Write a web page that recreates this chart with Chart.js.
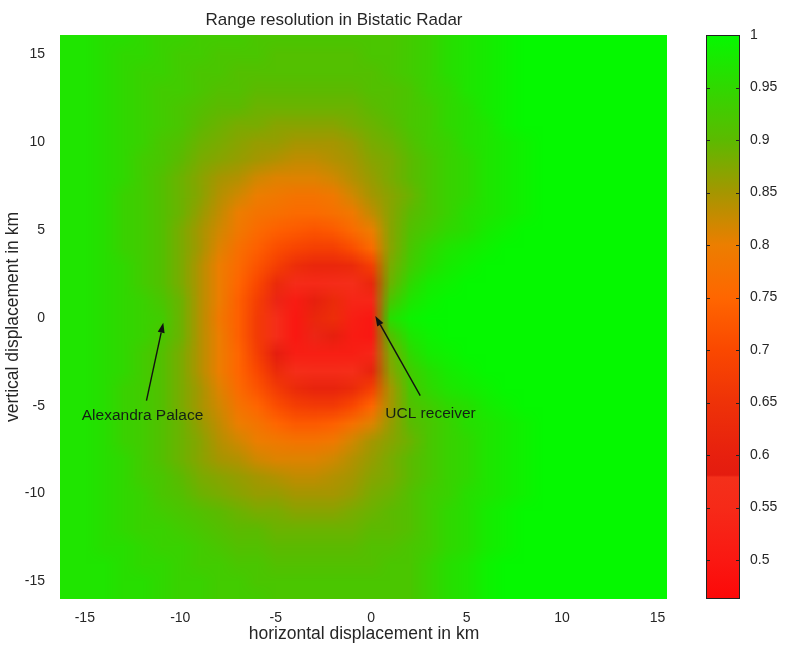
<!DOCTYPE html>
<html>
<head>
<meta charset="utf-8">
<title>Range resolution in Bistatic Radar</title>
<script src="https://cdn.jsdelivr.net/npm/chart.js@4.4.1/dist/chart.umd.min.js"></script>
<style>
  html, body { margin: 0; padding: 0; background: #fff; }
  #wrap { position: relative; width: 793px; height: 646px; }
  #mapa { position: absolute; left: 0; top: 0; }
  #barra { position: absolute; left: 700px; top: 0; }
</style>
</head>
<body>
<div id="wrap">
  <canvas id="mapa" width="793" height="646"></canvas>
  <canvas id="barra" width="93" height="646"></canvas>
</div>
<script>
// --- Datos ---
// centros de la malla (km)
const posX = [-16,-15,-14,-13,-12,-11,-10,-9,-8,-7,-6,-5,-4,-3,-2,-1,0,1,2,3,4,5,6,7,8,9,10,11,12,13,14,15];
const posY = [16,15,14,13,12,11,10,9,8,7,6,5,4,3,2,1,0,-1,-2,-3,-4,-5,-6,-7,-8,-9,-10,-11,-12,-13,-14,-15,-16];

// resolucion relativa en % (fila = posY, columna = posX)
const resolucion = [
  [97,97,96,96,95,94,94,93,93,93,92,92,92,92,92,92,92, 92,93,94,96,97,98,99,100,100,100,100,100,100,100,100],
  [97,97,96,95,95,94,93,93,92,92,92,91,91,91,91,91,92, 92,93,94,96,97,98,99,100,100,100,100,100,100,100,100],
  [97,97,96,95,94,94,93,92,92,91,91,91,91,91,91,91,91, 92,93,94,96,97,98,99,100,100,100,100,100,100,100,100],
  [97,97,96,95,94,93,93,92,91,91,90,90,90,90,90,90,91, 91,92,94,95,97,98,99,100,100,100,100,100,100,100,100],
  [97,97,96,95,94,93,92,91,90,90,89,89,89,89,89,89,90, 91,92,93,95,96,98,99,100,100,100,100,100,100,100,100],
  [97,97,96,95,94,93,92,90,89,88,88,87,87,87,87,88,89, 90,92,93,95,96,97,99,100,100,100,100,100,100,100,100],
  [97,97,96,95,94,92,91,89,88,87,86,86,85,85,85,86,88, 89,91,93,94,96,97,98,99,100,100,100,100,100,100,100],
  [97,97,96,95,93,92,90,88,87,86,85,84,83,83,84,85,87, 88,90,92,94,95,97,98,99,100,100,100,100,100,100,100],
  [97,97,96,95,93,91,89,87,85,84,82,81,81,81,82,84,86, 88,90,92,94,95,97,98,99,100,100,100,100,100,100,100],
  [97,97,96,94,93,91,89,87,84,82,80,79,78,78,79,82,85, 87,89,92,94,95,97,98,99,100,100,100,100,100,100,100],
  [97,97,96,94,93,91,89,86,83,80,78,77,76,76,77,79,83, 87,90,92,94,96,97,98,99,100,100,100,100,100,100,100],
  [97,97,96,94,93,91,88,85,82,79,76,74,73,72,73,76,80, 87,91,93,95,96,98,99,100,100,100,100,100,100,100,100],
  [97,97,96,94,93,91,88,85,81,77,74,71,69,68,68,71,76, 87,92,95,97,98,99,100,100,100,100,100,100,100,100,100],
  [97,97,96,95,93,91,88,84,80,76,72,68,64,62,62,63,68, 88,93,96,98,99,100,100,100,100,100,100,100,100,100,100],
  [97,97,96,95,93,91,88,84,80,75,70,63,56,55,56,57,62, 89,95,98,99,100,100,100,100,100,100,100,100,100,100,100],
  [97,97,96,95,94,92,89,84,80,74,68,58,51,60,63,54,54, 92,97,99,100,100,100,100,100,100,100,100,100,100,100,100],
  [97,97,96,95,94,93,89,84,79,74,67,57,50,62,64,52,50, 96,99,100,100,100,100,100,100,100,100,100,100,100,100,100],
  [97,97,96,95,94,92,89,84,80,74,67,57,50,58,60,51,50, 91,97,99,100,100,100,100,100,100,100,100,100,100,100,100],
  [97,97,96,95,93,91,88,84,80,75,68,59,52,52,52,52,54, 88,95,98,99,100,100,100,100,100,100,100,100,100,100,100],
  [97,97,96,95,93,91,88,84,80,75,70,63,57,56,56,57,61, 87,93,96,98,99,100,100,100,100,100,100,100,100,100,100],
  [97,97,96,94,93,91,88,85,81,76,72,67,63,61,61,63,68, 85,92,95,97,98,99,100,100,100,100,100,100,100,100,100],
  [97,97,96,94,93,91,88,85,82,78,75,71,68,67,67,70,75, 85,91,93,95,96,98,99,100,100,100,100,100,100,100,100],
  [97,97,96,94,93,91,89,86,83,80,78,75,73,73,74,77,81, 86,90,92,94,96,97,98,99,100,100,100,100,100,100,100],
  [97,97,96,94,93,91,89,87,84,82,80,79,78,78,79,82,85, 87,89,92,94,95,97,98,99,100,100,100,100,100,100,100],
  [97,97,96,95,93,91,89,87,85,84,82,81,81,81,82,84,86, 88,90,92,94,95,97,98,99,100,100,100,100,100,100,100],
  [97,97,96,95,93,92,90,88,87,86,85,84,83,83,84,85,87, 88,90,92,94,95,97,98,99,100,100,100,100,100,100,100],
  [97,97,96,95,94,92,91,89,88,87,86,86,85,85,85,86,88, 89,91,93,94,96,97,98,99,100,100,100,100,100,100,100],
  [97,97,96,95,94,93,92,91,90,89,88,88,87,87,87,88,89, 90,91,93,95,96,98,99,100,100,100,100,100,100,100,100],
  [97,97,96,95,94,94,93,92,91,90,90,89,89,89,89,89,90, 90,91,93,95,96,98,99,100,100,100,100,100,100,100,100],
  [97,97,96,96,95,94,94,93,92,91,91,90,90,90,90,90,91, 91,92,93,95,96,98,99,100,100,100,100,100,100,100,100],
  [97,97,97,96,95,95,94,93,93,92,92,91,91,91,91,91,91, 92,92,94,96,97,99,100,100,100,100,100,100,100,100,100],
  [97,97,97,96,96,95,94,94,93,93,92,92,92,92,92,92,92, 92,92,94,96,97,99,100,100,100,100,100,100,100,100,100],
  [97,97,97,96,96,95,94,94,93,93,93,92,92,92,92,92,92, 92,92,94,96,97,99,100,100,100,100,100,100,100,100,100]
];

const ticksX = [-15, -10, -5, 0, 5, 10, 15];
const ticksY = [-15, -10, -5, 0, 5, 10, 15];
const ticksBarra = [0.5, 0.55, 0.6, 0.65, 0.7, 0.75, 0.8, 0.85, 0.9, 0.95, 1];

// mapa de colores (valor -> rgb), con el salto que se ve en 0.58
const coloresValor = [0.463, 0.50, 0.55, 0.579, 0.581, 0.60, 0.65, 0.70, 0.75, 0.80, 0.85, 0.90, 0.95, 1.00];
const coloresRGB = [
  [252, 8, 8], [250, 24, 18], [246, 42, 24], [244, 48, 26], [228, 28, 15], [231, 32, 14],
  [238, 50, 8], [250, 72, 0], [255, 102, 0], [236, 126, 0], [165, 150, 0], [92, 186, 0],
  [48, 216, 0], [5, 248, 0]
];

// anotaciones (coordenadas en km)
const notas = [
  { texto: 'Alexandra Palace', tx: -15.16, ty: -5.56, desde: [-11.77, -4.71], hasta: [-10.89, -0.28] },
  { texto: 'UCL receiver', tx: 0.74, ty: -5.45, desde: [2.57, -4.43], hasta: [0.22, 0.11] }
];

const FUENTE = "'Liberation Sans', Arial, sans-serif";
const COLOR_TEXTO = '#262626';
Chart.defaults.font.family = FUENTE;

function colorDe(v) {
  if (v <= coloresValor[0]) return coloresRGB[0];
  for (let i = 1; i < coloresValor.length; i++) {
    if (v <= coloresValor[i]) {
      const t = (v - coloresValor[i - 1]) / (coloresValor[i] - coloresValor[i - 1]);
      const a = coloresRGB[i - 1], b = coloresRGB[i];
      return [0, 1, 2].map(k => Math.round(a[k] + (b[k] - a[k]) * t));
    }
  }
  return coloresRGB[coloresRGB.length - 1];
}

// --- Mapa de calor (una celda por punto de la malla, suavizado al escalar) ---
const pluginMapa = {
  id: 'mapaCalor',
  beforeDatasetsDraw(chart) {
    const { ctx, chartArea, scales } = chart;
    const w = posX.length, h = posY.length;
    const off = document.createElement('canvas');
    off.width = w; off.height = h;
    const octx = off.getContext('2d');
    const img = octx.createImageData(w, h);
    resolucion.forEach((fila, j) => fila.forEach((v, i) => {
      const c = colorDe(v / 100);
      const p = (j * w + i) * 4;
      img.data[p] = c[0]; img.data[p + 1] = c[1]; img.data[p + 2] = c[2]; img.data[p + 3] = 255;
    }));
    octx.putImageData(img, 0, 0);

    const paso = posX[1] - posX[0];
    const x0 = scales.x.getPixelForValue(posX[0] - paso / 2);
    const x1 = scales.x.getPixelForValue(posX[w - 1] + paso / 2);
    const y0 = scales.y.getPixelForValue(posY[0] + paso / 2);
    const y1 = scales.y.getPixelForValue(posY[h - 1] - paso / 2);

    ctx.save();
    ctx.beginPath();
    ctx.rect(chartArea.left, chartArea.top, chartArea.width, chartArea.height);
    ctx.clip();
    ctx.imageSmoothingEnabled = true;
    ctx.imageSmoothingQuality = 'low';
    ctx.drawImage(off, x0, y0, x1 - x0, y1 - y0);
    ctx.restore();
  }
};

// --- Flechas y textos ---
const pluginFlechas = {
  id: 'flechas',
  afterDatasetsDraw(chart) {
    const { ctx, scales: { x, y } } = chart;
    ctx.save();
    notas.forEach(n => {
      const ax = x.getPixelForValue(n.desde[0]), ay = y.getPixelForValue(n.desde[1]);
      const bx = x.getPixelForValue(n.hasta[0]), by = y.getPixelForValue(n.hasta[1]);
      const ang = Math.atan2(by - ay, bx - ax);
      const largo = 10, ancho = 3.5;
      const cx = bx - largo * Math.cos(ang), cy = by - largo * Math.sin(ang);
      ctx.strokeStyle = '#111';
      ctx.fillStyle = '#111';
      ctx.lineWidth = 1.4;
      ctx.beginPath();
      ctx.moveTo(ax, ay);
      ctx.lineTo(cx, cy);
      ctx.stroke();
      ctx.beginPath();
      ctx.moveTo(bx, by);
      ctx.lineTo(cx + ancho * Math.sin(ang), cy - ancho * Math.cos(ang));
      ctx.lineTo(cx - ancho * Math.sin(ang), cy + ancho * Math.cos(ang));
      ctx.closePath();
      ctx.fill();

      ctx.font = '15.5px ' + FUENTE;
      ctx.textAlign = 'left';
      ctx.textBaseline = 'middle';
      ctx.fillStyle = '#142014';
      ctx.fillText(n.texto, x.getPixelForValue(n.tx), y.getPixelForValue(n.ty));
    });
    ctx.restore();
  }
};

// --- Barra de colores ---
const pluginBarra = {
  id: 'barraColores',
  beforeDatasetsDraw(chart) {
    const { ctx, chartArea: a, scales: { y } } = chart;
    const pMin = y.getPixelForValue(y.min), pMax = y.getPixelForValue(y.max);
    const g = ctx.createLinearGradient(0, pMin, 0, pMax);
    coloresValor.forEach((v, i) => {
      const o = (y.getPixelForValue(v) - pMin) / (pMax - pMin);
      g.addColorStop(Math.min(1, Math.max(0, o)), 'rgb(' + coloresRGB[i].join(',') + ')');
    });
    ctx.save();
    ctx.fillStyle = g;
    ctx.fillRect(a.left, a.top, a.width, a.height);
    ctx.strokeStyle = '#222';
    ctx.lineWidth = 1;
    ticksBarra.forEach(v => {
      const py = Math.round(y.getPixelForValue(v)) + 0.5;
      ctx.beginPath();
      ctx.moveTo(a.left, py); ctx.lineTo(a.left + 4, py);
      ctx.moveTo(a.right - 4, py); ctx.lineTo(a.right, py);
      ctx.stroke();
    });
    ctx.strokeRect(a.left + 0.5, a.top + 0.5, a.width - 1, a.height - 1);
    ctx.restore();
  }
};

new Chart(document.getElementById('mapa'), {
  type: 'scatter',
  data: { datasets: [{ data: [] }] },
  options: {
    responsive: false,
    animation: false,
    events: [],
    layout: { padding: { right: 125 } },
    plugins: {
      legend: { display: false },
      tooltip: { enabled: false },
      title: {
        display: true,
        text: 'Range resolution in Bistatic Radar',
        color: COLOR_TEXTO,
        font: { size: 17, weight: 'normal' },
        padding: { top: 10, bottom: 4.6 }
      }
    },
    scales: {
      x: {
        type: 'linear', min: -16.3, max: 15.55,
        grid: { display: false }, border: { display: false },
        afterBuildTicks: s => { s.ticks = ticksX.map(v => ({ value: v })); },
        afterFit: s => { s.height = 47; },
        ticks: { color: COLOR_TEXTO, font: { size: 14 }, padding: 3, maxRotation: 0, autoSkip: false },
        title: { display: true, text: 'horizontal displacement in km', color: COLOR_TEXTO, font: { size: 17.5 }, padding: { top: 0, bottom: 1 } }
      },
      y: {
        type: 'linear', min: -16, max: 16.1,
        grid: { display: false }, border: { display: false },
        afterBuildTicks: s => { s.ticks = ticksY.map(v => ({ value: v })); },
        afterFit: s => { s.width = 60; },
        ticks: { color: COLOR_TEXTO, font: { size: 14 }, padding: 7, autoSkip: false },
        title: { display: true, text: 'vertical displacement in km', color: COLOR_TEXTO, font: { size: 17.5 }, padding: { top: 3, bottom: 0 } }
      }
    }
  },
  plugins: [pluginMapa, pluginFlechas]
});

new Chart(document.getElementById('barra'), {
  type: 'scatter',
  data: { datasets: [{ data: [] }] },
  options: {
    responsive: false,
    animation: false,
    events: [],
    layout: { padding: { left: 6, top: 35, bottom: 47 } },
    plugins: { legend: { display: false }, tooltip: { enabled: false } },
    scales: {
      x: { display: false, min: 0, max: 1 },
      y: {
        position: 'right', min: 0.463, max: 1,
        grid: { display: false }, border: { display: false },
        afterBuildTicks: s => { s.ticks = ticksBarra.map(v => ({ value: v })); },
        afterFit: s => { s.width = 53; },
        ticks: { color: COLOR_TEXTO, font: { size: 14 }, padding: 2, autoSkip: false, callback: v => String(+v.toFixed(2)) }
      }
    }
  },
  plugins: [pluginBarra]
});
</script>
</body>
</html>
